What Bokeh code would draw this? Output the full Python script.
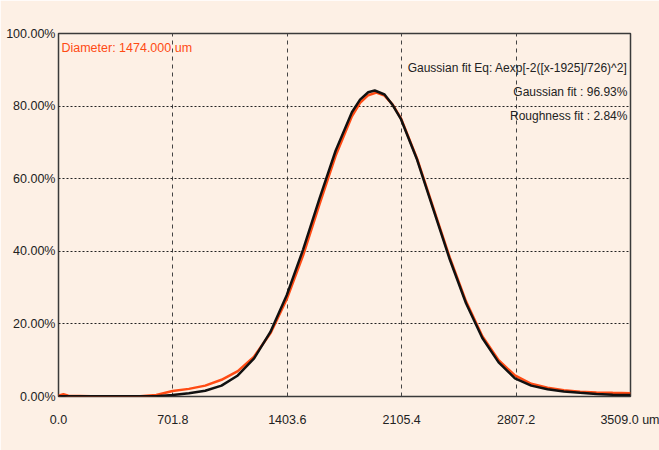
from bokeh.plotting import figure
from bokeh.models import Range1d, FixedTicker, Label
from bokeh.embed import file_html
from bokeh.resources import INLINE

# Measured profile (x in um, y in %)
measured_x = [0, 30, 60, 200, 400, 500, 600, 700, 800, 900, 1000, 1100, 1200, 1300, 1400,
              1500, 1600, 1700, 1800, 1850, 1900, 1950, 2000, 2050, 2100, 2200, 2300,
              2400, 2500, 2600, 2700, 2800, 2900, 3000, 3100, 3200, 3300, 3400, 3509]
measured_y = [0.2, 0.6, 0.2, 0.1, 0.1, 0.1, 0.4, 1.5, 2.1, 3.0, 4.6, 7.0, 11.0, 17.4, 26.8,
              38.8, 52.8, 66.3, 77.2, 80.9, 83.0, 83.7, 82.9, 80.4, 76.7, 65.5, 51.9,
              38.3, 26.2, 16.6, 10.0, 5.8, 3.5, 2.4, 1.7, 1.3, 1.1, 1.0, 0.9]

# Gaussian fit curve (x in um, y in %)
fit_x = [0, 200, 400, 500, 600, 700, 800, 900, 1000, 1100, 1200, 1300, 1400,
         1500, 1600, 1700, 1800, 1850, 1900, 1940, 2000, 2050, 2100, 2200, 2300,
         2400, 2500, 2600, 2700, 2800, 2900, 3000, 3100, 3200, 3300, 3400, 3509]
fit_y = [0.1, 0.1, 0.1, 0.1, 0.1, 0.4, 0.9, 1.6, 3.0, 5.8, 10.5, 17.8, 27.9,
         40.4, 54.4, 67.7, 78.3, 81.8, 83.8, 84.3, 83.2, 80.3, 76.5, 65.2, 51.5,
         37.8, 25.7, 16.1, 9.4, 5.0, 3.0, 2.0, 1.4, 1.0, 0.7, 0.5, 0.4]

x_ticks = [0.0, 701.8, 1403.6, 2105.4, 2807.2, 3509.0]
x_tick_labels = ["0.0", "701.8", "1403.6", "2105.4", "2807.2", "3509.0 um"]
y_ticks = [0, 20, 40, 60, 80, 100]
y_tick_labels = ["0.00%", "20.00%", "40.00%", "60.00%", "80.00%", "100.00%"]

BG = "#FDF0E5"
FONT = "Liberation Sans"

p = figure(width=659, height=450, output_backend="svg", toolbar_location=None,
           x_range=Range1d(0, 3509), y_range=Range1d(0, 100),
           min_border_left=58, min_border_right=29, min_border_top=33, min_border_bottom=54)
p.background_fill_color = BG
p.border_fill_color = BG
p.outline_line_color = "#3a3a3a"
p.outline_line_width = 1.5

p.xaxis.ticker = FixedTicker(ticks=x_ticks)
p.yaxis.ticker = FixedTicker(ticks=y_ticks)
p.xaxis.major_label_overrides = {t: l for t, l in zip(x_ticks, x_tick_labels)}
p.yaxis.major_label_overrides = {t: l for t, l in zip(y_ticks, y_tick_labels)}
for ax in (p.xaxis, p.yaxis):
    ax.axis_line_color = None
    ax.major_tick_line_color = None
    ax.minor_tick_line_color = None
    ax.major_tick_out = 0
    ax.major_tick_in = 0
    ax.major_label_text_font = FONT
    ax.major_label_text_font_size = "12.5px"
    ax.major_label_text_color = "#222222"
p.xaxis.major_label_standoff = 16
p.yaxis.major_label_standoff = 3

p.xgrid.grid_line_color = "#444444"
p.xgrid.grid_line_dash = "4 4"
p.xgrid.grid_line_width = 1
p.ygrid.grid_line_color = "#222222"
p.ygrid.grid_line_dash = "2 2"
p.ygrid.grid_line_width = 1.2

p.line(measured_x, measured_y, line_color="#FF4B14", line_width=2.5)
p.line(fit_x, fit_y, line_color="#111111", line_width=2.5)

p.add_layout(Label(x=18, y=95.9, text="Diameter: 1474.000 um", text_font=FONT,
                   text_font_size="12.5px", text_color="#FF4B14", text_baseline="middle"))
info = ["Gaussian fit Eq: Aexp[-2([x-1925]/726)^2]", "Gaussian fit : 96.93%", "Roughness fit : 2.84%"]
for i, t in enumerate(info):
    p.add_layout(Label(x=3490, y=90.4 - i * 6.6, text=t, text_font=FONT,
                       text_font_size="12px", text_color="#222222",
                       text_align="right", text_baseline="middle"))

open("out.html", "w").write(file_html(p, INLINE))
